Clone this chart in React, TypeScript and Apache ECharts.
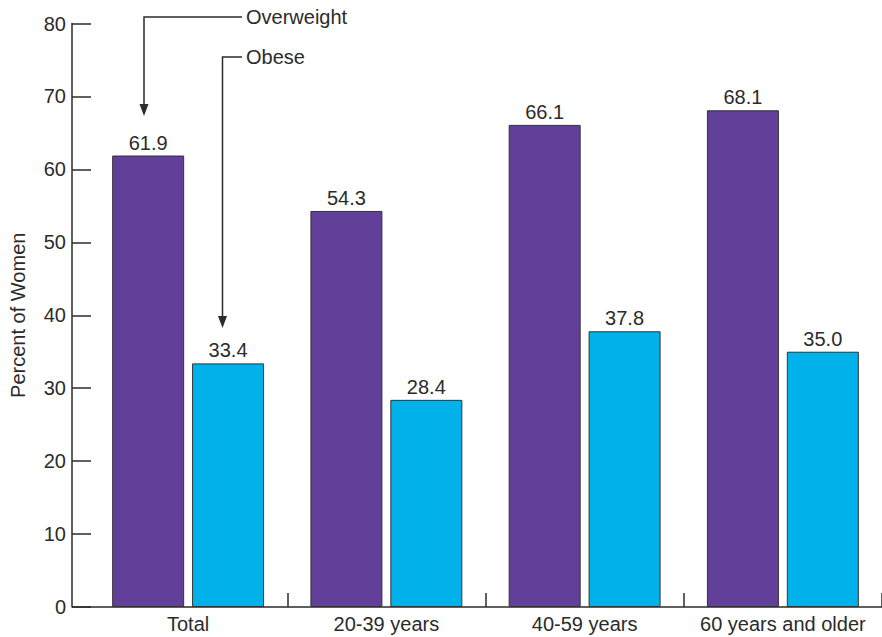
import React, { useEffect, useRef } from "react";
import * as echarts from "echarts";

const categories = ["Total", "20-39 years", "40-59 years", "60 years and older"];
const overweight = [61.9, 54.3, 66.1, 68.1];
const obese = [33.4, 28.4, 37.8, 35.0];
const yTicks = { min: 0, max: 80, interval: 10 };

const FONT = "'Liberation Sans', Arial, Helvetica, sans-serif";
const TEXT = "#2b2b2b";
const LINE = "#2b2b2b";

export default function App() {
  const ref = useRef<HTMLDivElement>(null);
  useEffect(() => {
    if (!ref.current) return;
    const chart = echarts.init(ref.current, undefined, { renderer: "svg" });
    const labelStyle = {
      show: true,
      position: "top" as const,
      distance: 3,
      color: TEXT,
      fontSize: 20,
      fontFamily: FONT,
      formatter: (p: any) => Number(p.value).toFixed(1),
    };
    chart.setOption({
      animation: false,
      backgroundColor: "#ffffff",
      textStyle: { fontFamily: FONT },
      grid: { left: 89, right: -4, top: 23.5, bottom: 30, containLabel: false },
      xAxis: {
        type: "category",
        data: categories,
        boundaryGap: true,
        axisLine: { show: true, lineStyle: { color: LINE, width: 1.5 } },
        axisTick: {
          show: true,
          inside: true,
          length: 14,
          lineStyle: { color: LINE, width: 1.5 },
          interval: (i: number) => i > 0,
        },
        axisLabel: { color: TEXT, fontSize: 20, fontFamily: FONT, margin: 7, interval: 0 },
        splitLine: { show: false },
      },
      yAxis: {
        type: "value",
        min: yTicks.min,
        max: yTicks.max,
        interval: yTicks.interval,
        offset: 17,
        name: "Percent of Women",
        nameLocation: "middle",
        nameRotate: 90,
        nameGap: 44,
        nameTextStyle: { color: TEXT, fontSize: 20, fontFamily: FONT },
        axisLine: { show: true, lineStyle: { color: LINE, width: 1.5 } },
        axisTick: { show: true, inside: true, length: 19, lineStyle: { color: LINE, width: 1.5 } },
        axisLabel: { color: TEXT, fontSize: 20, fontFamily: FONT, margin: 6 },
        splitLine: { show: false },
      },
      series: [
        {
          name: "Overweight",
          type: "bar",
          data: overweight,
          barWidth: 72,
          barGap: "11%",
          itemStyle: { color: "#623f98", borderColor: "#333333", borderWidth: 1 },
          label: labelStyle,
        },
        {
          name: "Obese",
          type: "bar",
          data: obese,
          barWidth: 72,
          itemStyle: { color: "#00b2e9", borderColor: "#333333", borderWidth: 1 },
          label: labelStyle,
        },
      ],
      graphic: [
        { type: "line", shape: { x1: 72, y1: 607, x2: 90, y2: 607 }, style: { stroke: LINE, lineWidth: 1.5 } },
        {
          type: "polyline",
          shape: { points: [[242, 17], [144, 17], [144, 106]] },
          style: { stroke: LINE, lineWidth: 1.5, fill: null },
        },
        {
          type: "polygon",
          shape: { points: [[139.5, 104], [148.5, 104], [144, 116]] },
          style: { fill: LINE },
        },
        {
          type: "text",
          x: 246,
          y: 17,
          style: { text: "Overweight", fill: TEXT, fontSize: 20, fontFamily: FONT, verticalAlign: "middle" },
        },
        {
          type: "polyline",
          shape: { points: [[242, 57], [222.5, 57], [222.5, 318]] },
          style: { stroke: LINE, lineWidth: 1.5, fill: null },
        },
        {
          type: "polygon",
          shape: { points: [[218, 316], [227, 316], [222.5, 328]] },
          style: { fill: LINE },
        },
        {
          type: "text",
          x: 246,
          y: 57,
          style: { text: "Obese", fill: TEXT, fontSize: 20, fontFamily: FONT, verticalAlign: "middle" },
        },
      ],
    });
    return () => chart.dispose();
  }, []);
  return (
    <div
      ref={ref}
      style={{ position: "absolute", left: 0, top: 0, width: 882, height: 637, background: "#fff" }}
    />
  );
}
